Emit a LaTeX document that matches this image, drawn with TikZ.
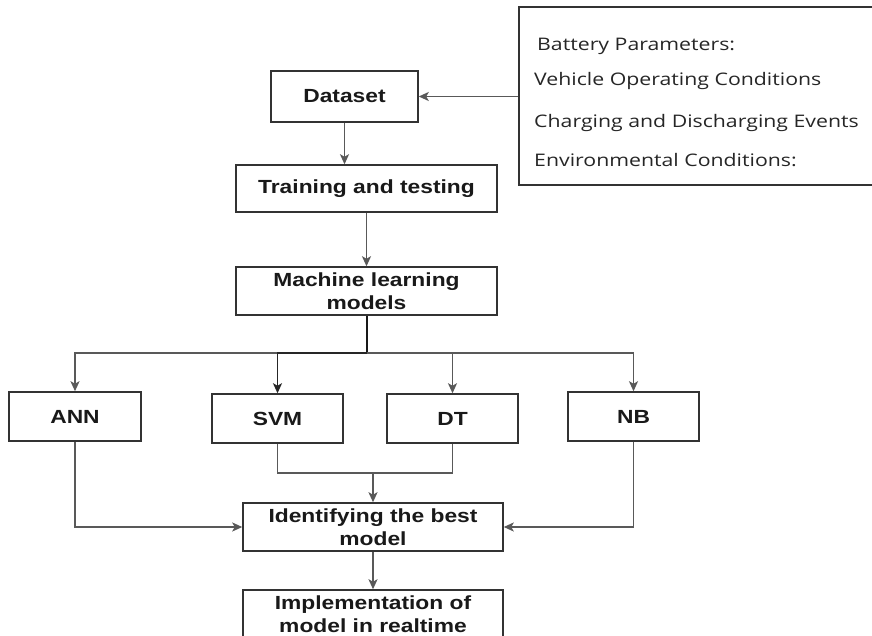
\documentclass[tikz,border=0pt]{standalone}
\usepackage{fontspec}
\usetikzlibrary{arrows.meta}
\newfontfamily\boxfont[FakeStretch=1.2]{Liberation Sans}
\newfontfamily\infofont[FakeStretch=1.23]{Open Sans}
\tikzset{
  box/.style={draw=black!80, line width=1.5pt, rectangle, inner sep=0pt, align=center,
    font=\boxfont\bfseries\fontsize{19}{23}\selectfont, text=black!90},
  con/.style={draw=black!65, line width=1.6pt},
  arr/.style={con, -{Stealth[length=10pt,width=9pt,inset=2.5pt]}},
  info/.style={anchor=base west, inner sep=0pt, font=\infofont\fontsize{17.3}{20}\selectfont, text=black!85}
}
\begin{document}
\begin{tikzpicture}[x=1pt,y=-1pt]
\useasboundingbox (0,0) rectangle (872,636);
\fill[white] (0,0) rectangle (872,636);
% nodes
\node[box, minimum width=147pt, minimum height=51pt] (dataset) at (344.5,96.5) {Dataset};
\node[box, minimum width=261pt, minimum height=47pt] (train) at (366.5,188.5) {Training and testing};
\node[box, minimum width=261pt, minimum height=48pt] (ml) at (366.5,291) {Machine learning\\models};
\node[box, minimum width=132pt, minimum height=49pt] (ann) at (75,416.5) {ANN};
\node[box, minimum width=131pt, minimum height=49pt] (svm) at (277.5,418.5) {SVM};
\node[box, minimum width=131pt, minimum height=49pt] (dt) at (452.5,418.5) {DT};
\node[box, minimum width=131pt, minimum height=49pt] (nb) at (633.5,416.5) {NB};
\node[box, minimum width=260pt, minimum height=48pt] (best) at (373,527) {Identifying the best\\model};
\node[box, minimum width=260pt, minimum height=48pt] (impl) at (373,614) {Implementation of\\model in realtime};
\node[draw=black!80, line width=1.5pt, rectangle, minimum width=361pt, minimum height=178pt, inner sep=0pt] (infobox) at (699.5,96) {};
\node[info] (t1) at (537,51) {Battery Parameters:};
\node[info] (t2) at (534,86) {Vehicle Operating Conditions};
\node[info] (t3) at (534,128) {Charging and Discharging Events};
\node[info] (t4) at (534,167) {Environmental Conditions:};
% connectors
\draw[arr] (infobox.west |- dataset.east) -- (dataset.east);
\draw[arr] (dataset.south) -- (dataset.south |- train.north);
\draw[arr] (train.south) -- (ml.north);
\coordinate (bus) at (366.5,353);
\draw[con, draw=black!90, line width=2pt] (ml.south) -- (bus);
\draw[arr] (bus) -| (ann.north);
\draw[arr] (bus) -| (nb.north);
\draw[arr, draw=black!85] (bus) -| (svm.north);
\draw[arr] (bus) -| (dt.north);
\coordinate (join) at (373,473);
\draw[con] (svm.south) |- (join) -| (dt.south);
\draw[arr] (join) -- (best.north);
\draw[arr] (ann.south) |- (best.west);
\draw[arr] (nb.south) |- (best.east);
\draw[arr] (best.south) -- (impl.north);
\end{tikzpicture}
\end{document}
